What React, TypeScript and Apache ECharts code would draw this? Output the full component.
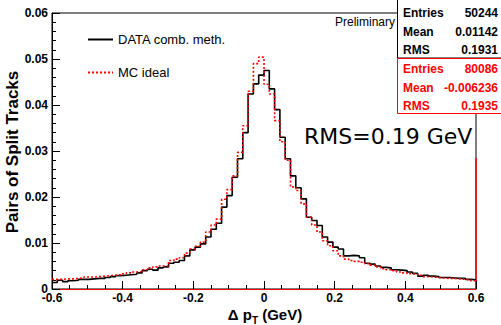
import React, { useEffect, useRef } from "react";
import * as echarts from "echarts";

const X_MIN = -0.6;
const X_MAX = 0.6;
const BIN_WIDTH = 0.015;

const seriesNames = ["DATA comb. meth.", "MC ideal"];

const dataCounts = [
  0.0014, 0.0019, 0.0016, 0.0018, 0.0019, 0.0021, 0.0021, 0.0022, 0.0023, 0.0023,
  0.0025, 0.0027, 0.0029, 0.0030, 0.0031, 0.0032, 0.0035, 0.0040, 0.0043, 0.0041,
  0.0046, 0.0048, 0.0056, 0.0058, 0.0062, 0.0072, 0.0085, 0.0091, 0.0098, 0.0113,
  0.0130, 0.0143, 0.0178, 0.0203, 0.0243, 0.0283, 0.0340, 0.0424, 0.0446, 0.0465,
  0.0475, 0.0435, 0.0390, 0.0330, 0.0283, 0.0246, 0.0220, 0.0196, 0.0156, 0.0149,
  0.0138, 0.0113, 0.0102, 0.0091, 0.0087, 0.0072, 0.0073, 0.0072, 0.0068, 0.0056,
  0.0054, 0.0050, 0.0047, 0.0046, 0.0042, 0.0041, 0.0040, 0.0037, 0.0034, 0.0028,
  0.0030, 0.0028, 0.0027, 0.0025, 0.0025, 0.0024, 0.0023, 0.0023, 0.0021, 0.0020,
];

const mcCounts = [
  0.0021, 0.0021, 0.0022, 0.0022, 0.0023, 0.0024, 0.0026, 0.0026, 0.0027, 0.0028,
  0.0029, 0.0030, 0.0031, 0.0033, 0.0035, 0.0037, 0.0038, 0.0042, 0.0046, 0.0048,
  0.0050, 0.0050, 0.0062, 0.0065, 0.0068, 0.0078, 0.0087, 0.0093, 0.0102, 0.0124,
  0.0139, 0.0152, 0.0195, 0.0216, 0.0246, 0.0297, 0.0355, 0.0430, 0.0490, 0.0504,
  0.0445, 0.0424, 0.0366, 0.0320, 0.0280, 0.0222, 0.0214, 0.0185, 0.0156, 0.0139,
  0.0124, 0.0105, 0.0094, 0.0083, 0.0072, 0.0065, 0.0062, 0.0060, 0.0058, 0.0055,
  0.0052, 0.0048, 0.0044, 0.0042, 0.0040, 0.0037, 0.0035, 0.0033, 0.0032, 0.0030,
  0.0027, 0.0026, 0.0025, 0.0024, 0.0023, 0.0023, 0.0022, 0.0021, 0.0020, 0.0018,
];

const statLabels = ["Entries", "Mean", "RMS"];
const dataStats = ["50244", "0.01142", "0.1931"];
const mcStats = ["80086", "-0.006236", "0.1935"];

const FONT = "'Liberation Sans', Arial, Helvetica, sans-serif";

function toSteps(vals: number[]): number[][] {
  const pts = vals.map((v, i) => [+(X_MIN + i * BIN_WIDTH).toFixed(4), v]);
  pts.push([+(X_MIN + vals.length * BIN_WIDTH).toFixed(4), vals[vals.length - 1]]);
  return pts;
}

export default function App() {
  const ref = useRef<HTMLDivElement>(null);

  useEffect(() => {
    document.body.style.margin = "0";
    if (!ref.current) return;
    const chart = echarts.init(ref.current, null, { renderer: "svg" });

    const statTexts: any[] = [];
    statLabels.forEach((lab, i) => {
      statTexts.push({
        type: "text", left: 403, top: 7 + i * 18.5,
        style: { text: lab, font: `bold 12px ${FONT}`, fill: "#000" },
      });
      statTexts.push({
        type: "text", right: 3, top: 7 + i * 18.5,
        style: { text: dataStats[i], font: `bold 12px ${FONT}`, fill: "#000", textAlign: "right" },
      });
      statTexts.push({
        type: "text", left: 403, top: 63 + i * 18.5,
        style: { text: lab, font: `bold 12px ${FONT}`, fill: "#ff0000" },
      });
      statTexts.push({
        type: "text", right: 3, top: 63 + i * 18.5,
        style: { text: mcStats[i], font: `bold 12px ${FONT}`, fill: "#ff0000", textAlign: "right" },
      });
    });

    chart.setOption({
      animation: false,
      backgroundColor: "#fff",
      grid: {
        left: 52, right: 25, top: 13, bottom: 36,
        show: true, borderColor: "#000", borderWidth: 1,
      },
      legend: {
        left: 82, top: 28, orient: "vertical", itemGap: 20,
        itemWidth: 25, itemHeight: 14,
        itemStyle: { opacity: 0 },
        textStyle: { fontFamily: FONT, fontSize: 13, color: "#000" },
        data: seriesNames,
      },
      xAxis: {
        type: "value", min: X_MIN, max: X_MAX, interval: 0.2,
        axisLine: { show: true, onZero: false, lineStyle: { color: "#ff0000", width: 1 } },
        axisTick: { show: true, inside: true, length: 8, lineStyle: { color: "#000" } },
        minorTick: { show: true, splitNumber: 4, length: 4, lineStyle: { color: "#000" } },
        splitLine: { show: false },
        axisLabel: {
          margin: 3, showMinLabel: true, showMaxLabel: true,
          fontFamily: FONT, fontWeight: "bold", fontSize: 12, color: "#000",
          formatter: (v: number) => (Math.abs(v) < 1e-9 ? "0" : v.toFixed(1)),
        },
      },
      yAxis: {
        type: "value", min: 0, max: 0.06, interval: 0.01,
        axisLine: { show: true, onZero: false, lineStyle: { color: "#000", width: 1 } },
        axisTick: { show: true, inside: true, length: 8, lineStyle: { color: "#000" } },
        minorTick: { show: true, splitNumber: 5, length: 4, lineStyle: { color: "#000" } },
        splitLine: { show: false },
        axisLabel: {
          margin: 4, showMinLabel: true, showMaxLabel: true,
          fontFamily: FONT, fontWeight: "bold", fontSize: 12, color: "#000",
          formatter: (v: number) => (Math.abs(v) < 1e-9 ? "0" : v.toFixed(2)),
        },
      },
      series: [
        {
          name: seriesNames[0], type: "line", step: "end", symbol: "none",
          data: toSteps(dataCounts), z: 3,
          lineStyle: { color: "#000", width: 1.6 }, itemStyle: { color: "#000" },
        },
        {
          name: seriesNames[1], type: "line", step: "end", symbol: "none",
          data: toSteps(mcCounts), z: 4,
          lineStyle: { color: "#ff0000", width: 1.6, type: [2, 2] }, itemStyle: { color: "#ff0000" },
        },
      ],
      graphic: [
        {
          type: "text", left: 335, top: 16,
          style: { text: "Preliminary", font: `12px ${FONT}`, fill: "#000" },
        },
        {
          type: "text", left: 304, top: 125,
          style: { text: "RMS=0.19 GeV", font: "22px 'DejaVu Sans', sans-serif", fill: "#000" },
        },
        {
          type: "line", shape: { x1: 476, y1: 158, x2: 476, y2: 289 },
          style: { stroke: "#ff0000", lineWidth: 1.5 },
        },
        {
          type: "rect", shape: { x: 397.5, y: -1, width: 110, height: 59 },
          style: { fill: "#fff", stroke: "#000", lineWidth: 1 },
        },
        {
          type: "rect", shape: { x: 397.5, y: 58.5, width: 110, height: 55 },
          style: { fill: "#fff", stroke: "#ff0000", lineWidth: 1 },
        },
        ...statTexts,
        {
          type: "text", x: 12, y: 152, rotation: Math.PI / 2,
          style: {
            text: "Pairs of Split Tracks", font: `bold 17px ${FONT}`, fill: "#000",
            textAlign: "center", textVerticalAlign: "middle",
          },
        },
        {
          type: "text", x: 265, y: 314,
          style: {
            text: "{a|Δ p}{s|T}{a| (GeV)}",
            textAlign: "center", textVerticalAlign: "middle",
            rich: {
              a: { font: `bold 15px ${FONT}`, fill: "#000", lineHeight: 22, verticalAlign: "middle" },
              s: { font: `bold 10px ${FONT}`, fill: "#000", lineHeight: 10, verticalAlign: "bottom" },
            },
          },
        },
      ],
    });

    return () => chart.dispose();
  }, []);

  return <div ref={ref} style={{ width: 501, height: 325 }} />;
}
